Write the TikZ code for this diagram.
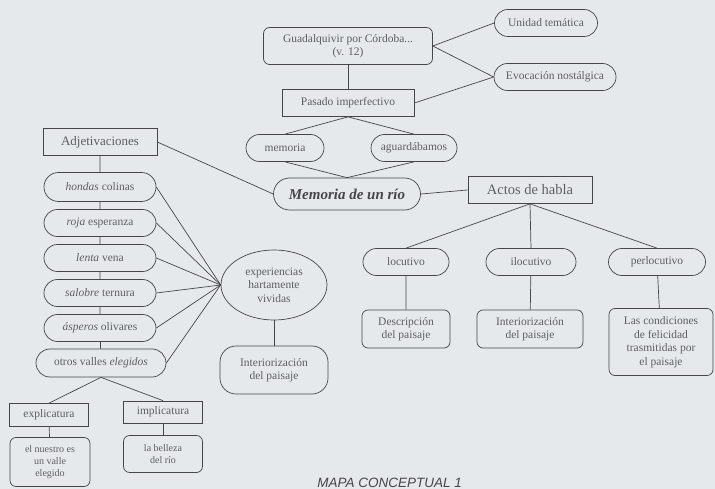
\documentclass[tikz,border=0pt]{standalone}
\usepackage{fontspec}
\setmainfont{Liberation Serif}
\newfontfamily\capfont{Liberation Sans}
\usepackage{tikz}
\usetikzlibrary{shapes.misc,shapes.geometric}
\definecolor{paper}{RGB}{229,233,236}
\definecolor{ink}{RGB}{70,70,72}
\definecolor{txt}{RGB}{95,95,98}

\begin{document}
\begin{tikzpicture}[x=1pt,y=-1pt,line width=0.7pt,
  every node/.style={text=txt,font=\fontsize{11.5}{13.5}\selectfont,inner sep=1pt,align=center},
  box/.style={draw=ink,rectangle},
  pill/.style={draw=ink,rounded rectangle},
  rbox/.style={draw=ink,rounded corners=6pt},
  big/.style={font=\fontsize{13}{15}\selectfont},
  small/.style={font=\fontsize{10}{11.7}\selectfont}]
\fill[paper] (0,0) rectangle (715,489);
\useasboundingbox (0,0) rectangle (715,489);
% parte superior
\node[rbox,minimum width=169pt,minimum height=37pt] (guad) at (348,46) {Guadalquivir por Córdoba...\\(v. 12)};
\node[pill,minimum width=105pt,minimum height=27pt] (unid) at (546,23) {Unidad temática};
\node[pill,minimum width=124pt,minimum height=27pt] (evoc) at (555,77) {Evocación nostálgica};
\node[box,minimum width=132pt,minimum height=27pt] (pasado) at (348,103) {Pasado imperfectivo};
\node[pill,minimum width=80pt,minimum height=27pt] (mem) at (285,148) {memoria};
\node[pill,minimum width=88pt,minimum height=27pt] (agu) at (414,148) {aguardábamos};
\node[pill,minimum width=149pt,minimum height=32pt,font=\fontsize{15}{17}\selectfont\bfseries\itshape,text=ink] (rio) at (347,194) {Memoria de un río};
\draw[ink] (guad.east) -- (unid.west);
\draw[ink] (guad.east) -- (evoc.west);
\draw[ink] (pasado.east) -- (evoc.west);
\draw[ink] (guad) -- (pasado);
\draw[ink] (pasado.south) -- (mem.north);
\draw[ink] (pasado.south) -- (agu.north);
\draw[ink] (mem.south) -- (rio.north);
\draw[ink] (agu.south) -- (rio.north);
% adjetivaciones
\node[box,big,minimum width=114pt,minimum height=27pt] (adj) at (100,142) {Adjetivaciones};
\node[pill,minimum width=114pt,minimum height=29pt] (hond) at (100,187) {\textit{hondas} colinas};
\node[pill,minimum width=114pt,minimum height=27pt] (roja) at (100,223) {\textit{roja} esperanza};
\node[pill,minimum width=114pt,minimum height=27pt] (lenta) at (100,258) {\textit{lenta} vena};
\node[pill,minimum width=114pt,minimum height=27pt] (salob) at (100,293) {\textit{salobre} ternura};
\node[pill,minimum width=114pt,minimum height=27pt] (asp) at (100,328) {\textit{ásperos} olivares};
\node[pill,minimum width=132pt,minimum height=28pt] (otros) at (101,363) {otros valles \textit{elegidos}};
\node[box,minimum width=79pt,minimum height=23pt] (expl) at (49,415) {explicatura};
\node[box,minimum width=79pt,minimum height=22pt] (impl) at (163,412) {implicatura};
\node[rbox,small,minimum width=80pt,minimum height=49pt] (nuestro) at (50,462) {el nuestro es\\un valle\\elegido};
\node[rbox,small,minimum width=79pt,minimum height=37pt] (bell) at (163,454) {la belleza\\del río};
\node[draw=ink,ellipse,inner sep=0pt,minimum width=106pt,minimum height=70pt] (exper) at (274,285) {experiencias\\hartamente\\vividas};
\node[draw=ink,rounded corners=16pt,minimum width=108pt,minimum height=48pt] (inter) at (274,370) {Interiorización\\del paisaje};
\draw[ink] (adj) -- (hond) -- (roja) -- (lenta) -- (salob) -- (asp) -- (otros);
\foreach \adjn in {hond,roja,lenta,salob,asp,otros}
  \draw[ink] (\adjn.east) -- (exper.west);
\draw[ink] (otros.south) -- (expl.north);
\draw[ink] (otros.south) -- (impl.north);
\draw[ink] (expl) -- (nuestro);
\draw[ink] (impl) -- (bell);
\draw[ink] (exper) -- (inter);
\draw[ink] (adj.east) -- (rio.west);
% actos de habla
\node[box,font=\fontsize{14.5}{16}\selectfont,minimum width=124pt,minimum height=27pt] (actos) at (530,190) {Actos de habla};
\node[pill,minimum width=88pt,minimum height=27pt] (loc) at (406,262) {locutivo};
\node[pill,minimum width=92pt,minimum height=27pt] (iloc) at (531,262) {ilocutivo};
\node[pill,minimum width=99pt,minimum height=27pt] (perl) at (657,262) {perlocutivo};
\node[rbox,minimum width=88pt,minimum height=38pt] (desc) at (406,329) {Descripción\\del paisaje};
\node[rbox,minimum width=106pt,minimum height=38pt] (inter2) at (530,329) {Interiorización\\del paisaje};
\node[rbox,minimum width=104pt,minimum height=67pt] (cond) at (661,342) {Las condiciones\\de felicidad\\trasmitidas por\\el paisaje};
\draw[ink] (rio.east) -- (actos.west);
\draw[ink] (actos.south) -- (loc.north);
\draw[ink] (actos.south) -- (iloc.north);
\draw[ink] (actos.south) -- (perl.north);
\draw[ink] (loc) -- (desc);
\draw[ink] (iloc) -- (inter2);
\draw[ink] (perl) -- (cond);
% pie
\node[anchor=base west,inner sep=0pt,text=ink,font=\capfont\itshape\fontsize{13.5}{15}\selectfont] (pie) at (317,487) {MAPA CONCEPTUAL 1};
\end{tikzpicture}
\end{document}
